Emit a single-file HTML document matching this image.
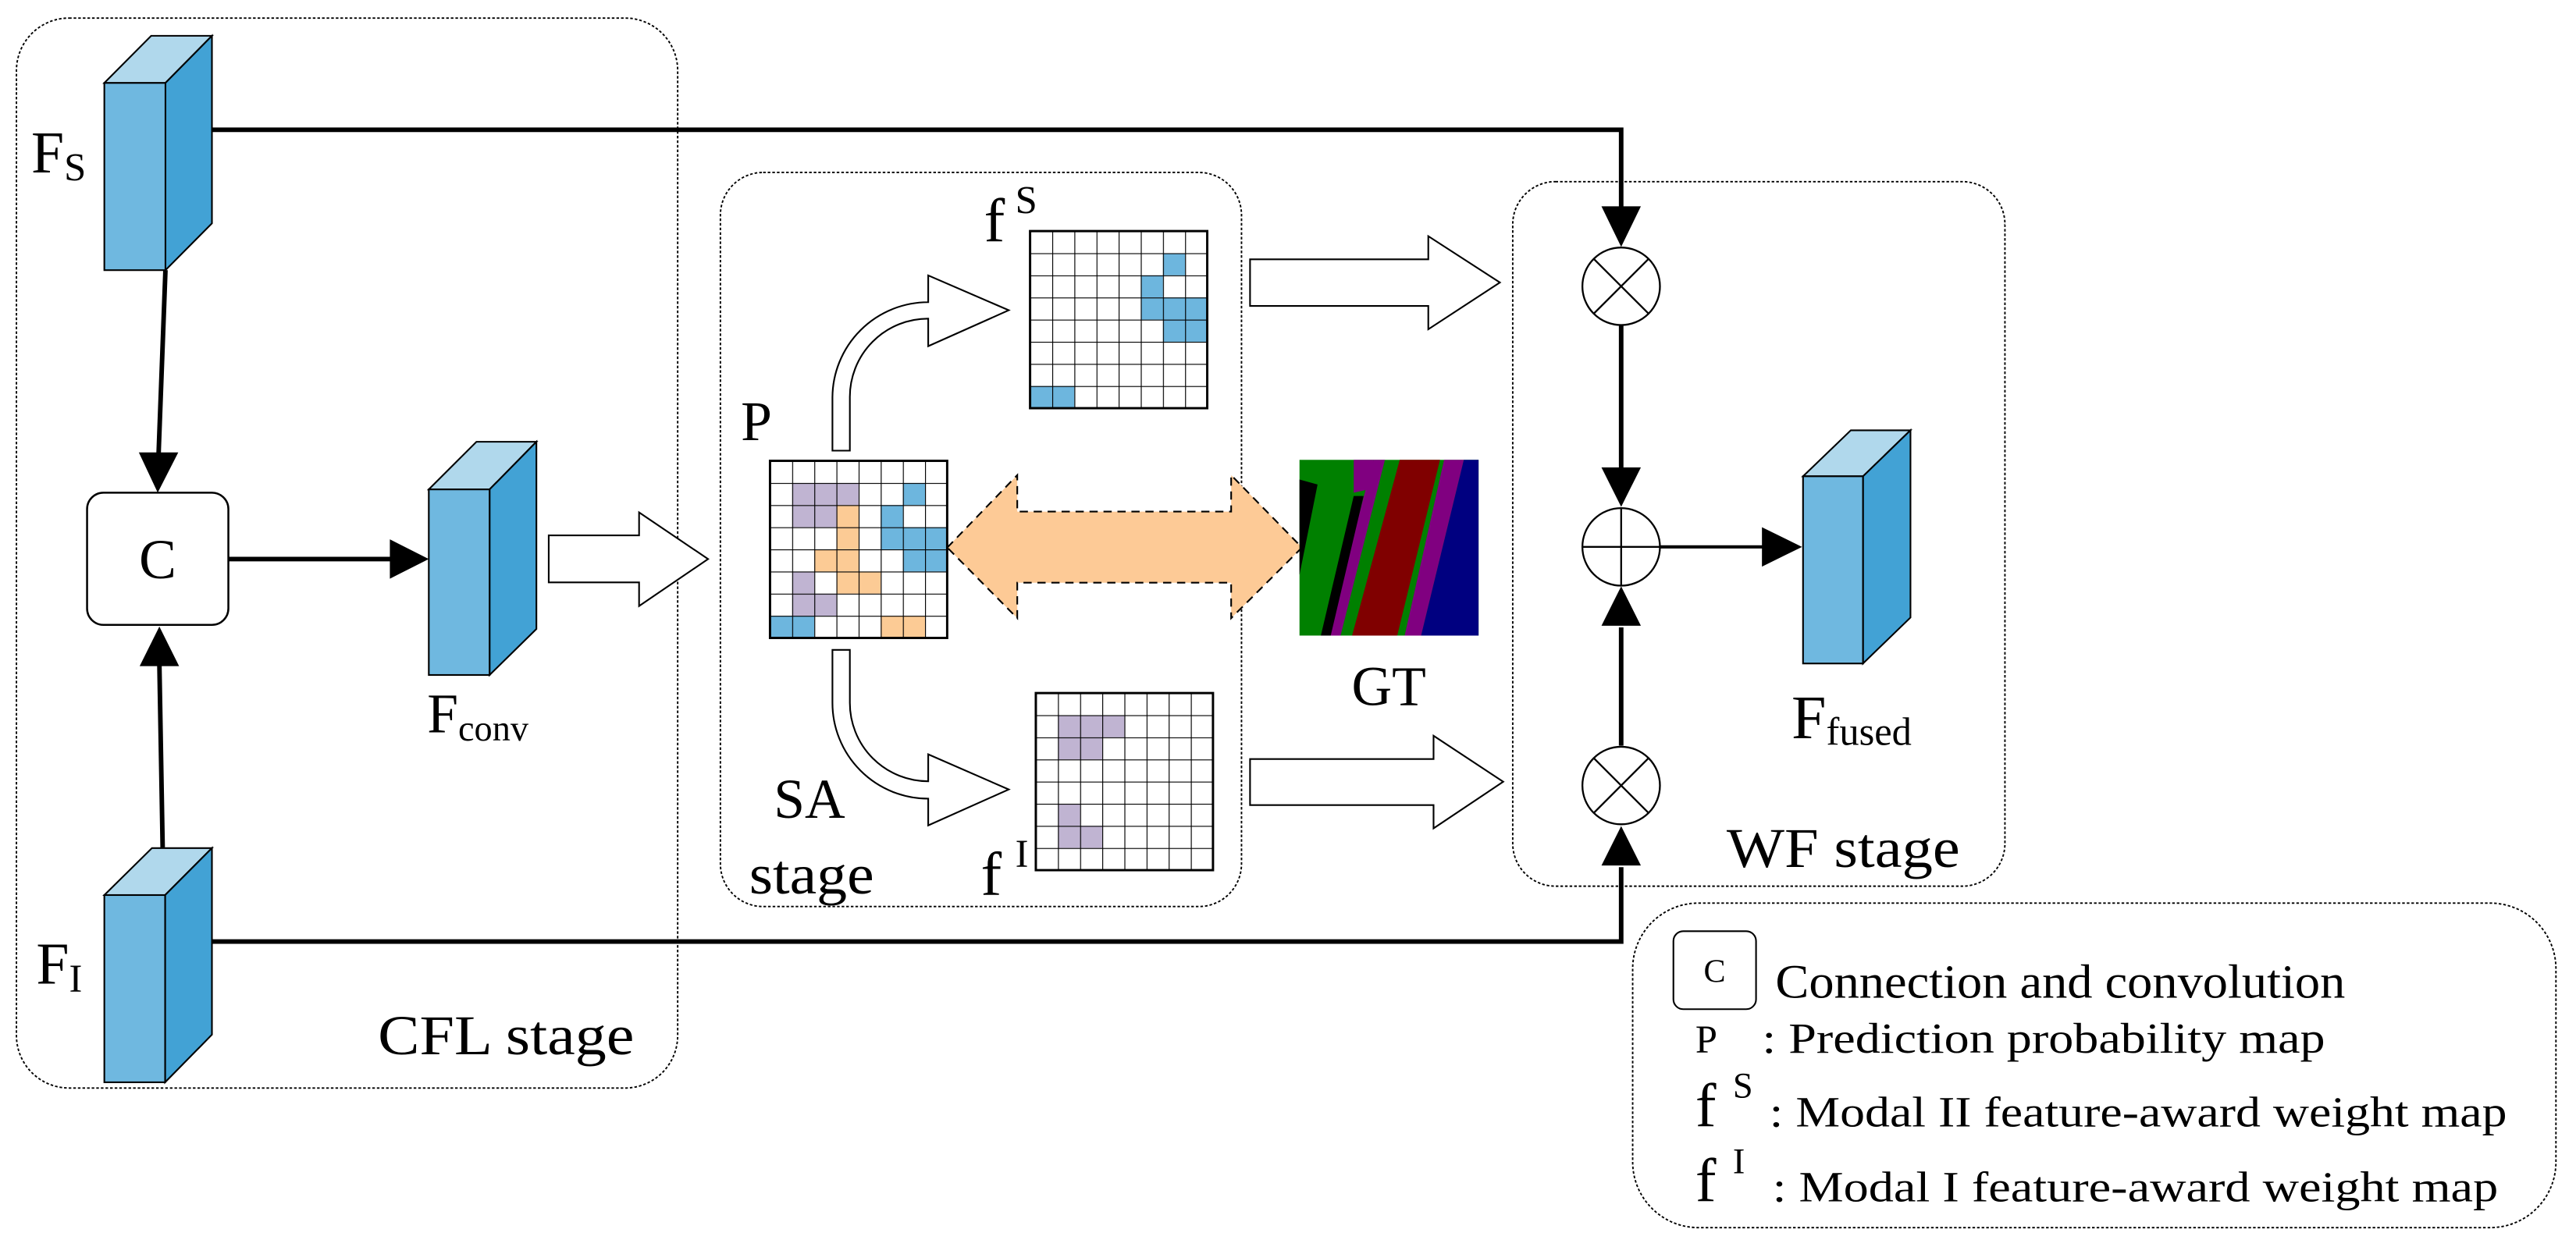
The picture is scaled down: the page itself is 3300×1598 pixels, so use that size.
<!DOCTYPE html>
<html><head><meta charset="utf-8"><style>html,body{margin:0;padding:0;background:#fff}svg{display:block}svg text{font-family:"Liberation Serif","Times New Roman",Times,"DejaVu Serif",serif;fill:#000}</style></head><body>
<svg width="3300" height="1598" viewBox="0 0 1568 759.3" xmlns="http://www.w3.org/2000/svg" font-family="Liberation Serif, Times New Roman, serif">
<defs>
<pattern id="g" width="13.48" height="13.48" patternUnits="userSpaceOnUse"><path d="M0,0H13.48M0,0V13.48" stroke="#000" stroke-width="1.1" fill="none"/></pattern>
</defs>
<g fill="none" stroke="#000" stroke-width="0.9" stroke-dasharray="1.6 1.2">
<rect x="10" y="11" width="402.5" height="651.5" rx="32"/>
<rect x="438.5" y="105" width="317.2" height="447" rx="26"/>
<rect x="920.8" y="110.6" width="299.6" height="429" rx="26"/>
<rect x="993.8" y="549.9" width="562" height="197.6" rx="40"/>
</g>
<g stroke="#000" stroke-width="1">
<polygon points="63.5,50.5 92,21.8 129,21.8 100.7,50.5" fill="#b0d8ec"/>
<polygon points="100.7,50.5 129,21.8 129,136 100.7,164.5" fill="#42a2d5"/>
<rect x="63.5" y="50.5" width="37.2" height="114" fill="#6fb8e0"/>
<polygon points="63.5,545 92.5,516.4 129,516.4 100.5,545" fill="#b0d8ec"/>
<polygon points="100.5,545 129,516.4 129,630 100.5,659" fill="#42a2d5"/>
<rect x="63.5" y="545" width="37" height="114" fill="#6fb8e0"/>
<polygon points="261,298 290,269 326.5,269 298,298" fill="#b0d8ec"/>
<polygon points="298,298 326.5,269 326.5,383 298,411" fill="#42a2d5"/>
<rect x="261" y="298" width="37" height="113" fill="#6fb8e0"/>
<polygon points="1097.5,290 1126.6,262 1162.9,262 1134,290" fill="#b0d8ec"/>
<polygon points="1134,290 1162.9,262 1162.9,376 1134,404" fill="#42a2d5"/>
<rect x="1097.5" y="290" width="36.5" height="114" fill="#6fb8e0"/>
</g>
<rect x="53" y="300" width="86" height="80.5" rx="10" fill="#fff" stroke="#000" stroke-width="1.2"/>
<text x="96" y="352" font-size="34" text-anchor="middle">C</text>
<g stroke="#000" stroke-width="2.8" fill="none">
<polyline points="129,79 986.8,79 986.8,127"/>
<polyline points="129,573.3 986.8,573.3 986.8,528"/>
<line x1="100.7" y1="164.5" x2="96.5" y2="277"/>
<line x1="99" y1="516" x2="97" y2="404"/>
<line x1="139" y1="340.4" x2="238" y2="340.4"/>
<line x1="986.8" y1="198" x2="986.8" y2="285"/>
<line x1="986.8" y1="454" x2="986.8" y2="382"/>
<line x1="1010.6" y1="333" x2="1073" y2="333" stroke-width="2"/>
</g>
<g fill="#000">
<polygon points="84.5,275.5 108.5,275.5 96,300"/>
<polygon points="85,405.6 109,405.6 97,381.5"/>
<polygon points="237.3,328.4 237.3,352.4 261,340.4"/>
<polygon points="974.8,125.6 998.8,125.6 986.8,150.3"/>
<polygon points="974.8,284.6 998.8,284.6 986.8,308.6"/>
<polygon points="974.8,381 998.8,381 986.8,357"/>
<polygon points="974.8,527 998.8,527 986.8,503"/>
<polygon points="1072.5,321 1072.5,345 1096.9,333"/>
</g>
<g fill="#fff" stroke="#000" stroke-width="1.1">
<circle cx="986.8" cy="174.3" r="23.6"/>
<circle cx="986.8" cy="333" r="23.6"/>
<circle cx="986.8" cy="478.3" r="23.6"/>
<path d="M970.1,157.6L1003.5,191M1003.5,157.6L970.1,191M970.1,461.6L1003.5,495M1003.5,461.6L970.1,495M963.2,333H1010.4M986.8,309.4V356.6" fill="none"/>
</g>
<g fill="#fff" stroke="#000" stroke-width="1">
<polygon points="334,326 389,326 389,312 431,340.4 389,369 389,354.6 334,354.6"/>
<polygon points="760.9,157.9 869.4,157.9 869.4,143.8 913,172 869.4,200.5 869.4,186.3 760.9,186.3"/>
<polygon points="760.9,462.2 872.6,462.2 872.6,448 915,476 872.6,504.4 872.6,490.2 760.9,490.2"/>
<path d="M506.7,274.4 L506.7,242 A58.3,58.3 0 0 1 565,184 L565,167.7 L614,188.9 L565,210.8 L565,194 A47.7,47.7 0 0 0 517.3,242 L517.3,274.4 Z"/>
<path d="M506.7,395.7 L506.7,428 A58.3,58.3 0 0 0 565,486.3 L565,502.6 L614,480.7 L565,459.3 L565,475.7 A47.7,47.7 0 0 1 517.3,428 L517.3,395.7 Z"/>
</g>
<polygon points="576.6,333.4 619.2,289.3 619.2,311.5 749.4,311.5 749.4,289.3 792.5,333.4 749.4,376.4 749.4,354.8 619.2,354.8 619.2,376.4" fill="#fdca96" stroke="#000" stroke-width="1" stroke-dasharray="5 3.5"/>
<g transform="translate(468.7,280.6)">
<g fill="#c0b4d2"><rect x="13.48" y="13.48" width="40.44" height="13.48"/><rect x="13.48" y="26.96" width="26.96" height="13.48"/><rect x="13.48" y="67.4" width="13.48" height="13.48"/><rect x="13.48" y="80.88" width="26.96" height="13.48"/></g>
<g fill="#fccb95"><rect x="40.44" y="26.96" width="13.48" height="26.96"/><rect x="26.96" y="53.92" width="26.96" height="13.48"/><rect x="40.44" y="67.4" width="26.96" height="13.48"/><rect x="67.4" y="94.36" width="26.96" height="13.48"/></g>
<g fill="#6db6de"><rect x="80.88" y="13.48" width="13.48" height="13.48"/><rect x="67.4" y="26.96" width="13.48" height="13.48"/><rect x="67.4" y="40.44" width="40.44" height="13.48"/><rect x="80.88" y="53.92" width="26.96" height="13.48"/><rect x="0" y="94.36" width="26.96" height="13.48"/></g>
<rect width="107.84" height="107.84" fill="url(#g)" stroke="#000" stroke-width="1.4"/>
</g>
<g transform="translate(627,140.7)">
<g fill="#6db6de"><rect x="80.88" y="13.48" width="13.48" height="13.48"/><rect x="67.4" y="26.96" width="13.48" height="13.48"/><rect x="67.4" y="40.44" width="40.44" height="13.48"/><rect x="80.88" y="53.92" width="26.96" height="13.48"/><rect x="0" y="94.36" width="26.96" height="13.48"/></g>
<rect width="107.84" height="107.84" fill="url(#g)" stroke="#000" stroke-width="1.4"/>
</g>
<g transform="translate(630.5,422)">
<g fill="#c0b4d2"><rect x="13.48" y="13.48" width="40.44" height="13.48"/><rect x="13.48" y="26.96" width="26.96" height="13.48"/><rect x="13.48" y="67.4" width="13.48" height="13.48"/><rect x="13.48" y="80.88" width="26.96" height="13.48"/></g>
<rect width="107.84" height="107.84" fill="url(#g)" stroke="#000" stroke-width="1.4"/>
</g>
<g transform="translate(791,280)">
<rect width="109" height="107" fill="#008000"/>
<polygon points="100,0 109,0 109,107 74,107" fill="#000080"/>
<polygon points="88,0 100,0 74,107 64,107" fill="#800080"/>
<polygon points="61,0 85.5,0 59.5,107 32,107" fill="#800000"/>
<polygon points="45,0 52,0 25,107 17,107" fill="#800080"/>
<polygon points="33,22 39,22 19,107 13,107" fill="#000"/>
<polygon points="33,0 45,0 42,18 33,20" fill="#800080"/>
<polygon points="0,12 11,15 0,70" fill="#000"/>
</g>
<text x="19" y="105" font-size="36">F<tspan font-size="24" dy="5">S</tspan></text>
<text x="22" y="599" font-size="36">F<tspan font-size="24" dy="5">I</tspan></text>
<text x="260" y="446" font-size="34">F<tspan font-size="22" dy="5">conv</tspan></text>
<text x="230" y="642" font-size="34" textLength="156" lengthAdjust="spacingAndGlyphs">CFL stage</text>
<text x="451" y="268" font-size="34">P</text>
<text x="599" y="147" font-size="38">f</text><text x="618" y="130" font-size="24">S</text>
<text x="597" y="545" font-size="38">f</text><text x="618" y="528" font-size="24">I</text>
<text x="471" y="498" font-size="34">SA</text>
<text x="456" y="544" font-size="34" textLength="76" lengthAdjust="spacingAndGlyphs">stage</text>
<text x="822.7" y="429.4" font-size="34">GT</text>
<text x="1090.5" y="449.6" font-size="38">F<tspan font-size="24" dy="4">fused</tspan></text>
<text x="1051" y="528" font-size="34" textLength="142" lengthAdjust="spacingAndGlyphs">WF stage</text>
<rect x="1018.6" y="567" width="50.3" height="47.5" rx="6" fill="#fff" stroke="#000" stroke-width="1"/>
<text x="1043.7" y="598" font-size="20" text-anchor="middle">C</text>
<text x="1080.7" y="607.4" font-size="29" textLength="346.8" lengthAdjust="spacingAndGlyphs">Connection and convolution</text>
<text x="1032" y="641" font-size="24">P</text>
<text x="1072.6" y="641" font-size="26" textLength="342.7" lengthAdjust="spacingAndGlyphs">: Prediction probability map</text>
<text x="1032" y="685.8" font-size="38">f</text><text x="1054.8" y="668.4" font-size="22">S</text>
<text x="1077" y="685.8" font-size="26" textLength="449" lengthAdjust="spacingAndGlyphs">: Modal II feature-award weight map</text>
<text x="1032" y="731.4" font-size="38">f</text><text x="1054.8" y="714.3" font-size="22">I</text>
<text x="1078.9" y="731.4" font-size="26" textLength="441.7" lengthAdjust="spacingAndGlyphs">: Modal I feature-award weight map</text>
</svg>
</body></html>
